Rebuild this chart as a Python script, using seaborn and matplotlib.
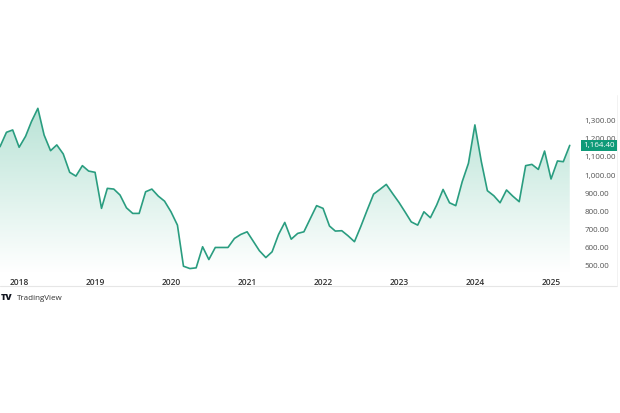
import matplotlib
matplotlib.use("Agg")
import matplotlib.pyplot as plt
import matplotlib.dates as mdates
from matplotlib.colors import LinearSegmentedColormap
import seaborn as sns
import pandas as pd
import numpy as np

# monthly closes, Oct 2017 .. Apr 2025
months = pd.date_range("2017-10-01", "2025-04-01", freq="MS")
values = [
    1157, 1237, 1250,                                   # 2017 Oct-Dec
    1154, 1215, 1296, 1370, 1222, 1135, 1167, 1117, 1015, 994, 1052, 1022,   # 2018
    1015, 815, 926, 922, 889, 818, 787, 787, 907, 922, 883, 855,             # 2019
    796, 722, 494, 481, 485, 602, 531, 598, 598, 598, 648, 670,              # 2020
    685, 630, 580, 542, 574, 670, 737, 644, 676, 685, 759, 830,              # 2021
    815, 717, 689, 691, 663, 630, 713, 805, 894, 920, 948, 898,              # 2022
    848, 792, 740, 722, 796, 763, 833, 920, 846, 830, 963, 1065,             # 2023
    1278, 1074, 913, 885, 846, 917, 883, 852, 1052, 1059, 1031, 1133,        # 2024
    978, 1078, 1074, 1164.40,                                                 # 2025
]
y_ticks = [500, 600, 700, 800, 900, 1000, 1100, 1200, 1300]
years = list(range(2018, 2026))
last_label = "1,164.40"

df = pd.DataFrame({"date": months, "price": values})

sns.set_style("white")
plt.rcParams["font.family"] = ["Open Sans", "DejaVu Sans"]

line_color = "#2a9d80"
fig = plt.figure(figsize=(6.2, 4.13), dpi=100)
ax = fig.add_axes([0.0, 0.341, 0.927, 0.429])

ymin, ymax = 461, 1444
xmin = pd.Timestamp("2017-10-01")
xmax = pd.Timestamp("2025-04-25")

# gradient area under the line
poly = ax.fill_between(df["date"], df["price"], ymin, color="none", lw=0)
cmap = LinearSegmentedColormap.from_list("fade", ["#ffffff", "#b9e3d6"])
grad = np.linspace(0, 1, 256).reshape(-1, 1)
img = ax.imshow(grad, cmap=cmap, aspect="auto", origin="lower",
                extent=[mdates.date2num(xmin), mdates.date2num(xmax), ymin, max(values)],
                zorder=1)
clip = poly.get_paths()[0]
img.set_clip_path(clip, transform=ax.transData)

sns.lineplot(data=df, x="date", y="price", ax=ax, color=line_color, lw=1.2, zorder=3)

ax.set_xlim(xmin, xmax)
ax.set_ylim(ymin, ymax)
ax.set_xlabel("")
ax.set_ylabel("")
for s in ax.spines.values():
    s.set_visible(False)

ax.yaxis.tick_right()
ax.set_yticks(y_ticks)
ax.set_yticklabels([f"{v:,.2f}" for v in y_ticks], fontsize=5.8, color="#555555")
ax.tick_params(axis="y", length=0, pad=7)

ax.set_xticks([pd.Timestamp(f"{y}-01-01") for y in years])
ax.set_xticklabels([str(y) for y in years], fontsize=6, color="#333333", fontweight="semibold")
ax.tick_params(axis="x", length=0, pad=4)

# last price tag
ax.annotate(last_label, xy=(1.0, values[-1]), xycoords=("axes fraction", "data"),
            xytext=(6, 0), textcoords="offset points", va="center", ha="left",
            fontsize=5.8, color="white",
            bbox=dict(boxstyle="square,pad=0.25", fc="#0f9a78", ec="none"))

# frame lines
fig.add_artist(plt.Line2D([0, 0.995], [1 - 286 / 413] * 2, color="#e6e6e6", lw=0.8))
fig.add_artist(plt.Line2D([0.995, 0.995], [1 - 286 / 413, 1 - 95 / 413], color="#f0f0f0", lw=0.6))

# watermark
fig.text(0.002, 1 - 298 / 413, "TV", fontsize=6.5, fontweight="heavy", color="#131722", va="center")
fig.text(0.028, 1 - 298 / 413, "TradingView", fontsize=5.8, color="#333333", va="center")

fig.savefig("out.png", dpi=100, facecolor="white")
